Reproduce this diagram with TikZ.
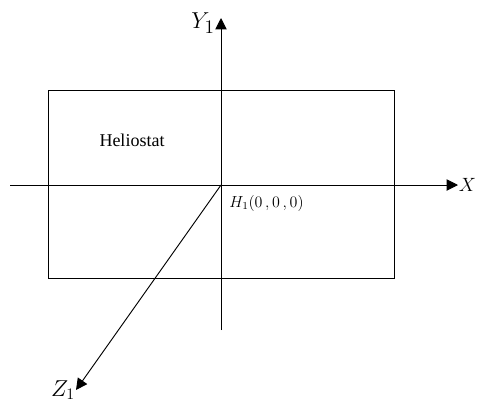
\documentclass[tikz,border=0pt]{standalone}
\usepackage{fontspec}
\setmainfont{Liberation Serif}
\usepackage{tikz}
\usetikzlibrary{arrows.meta,positioning}

\begin{document}
\begin{tikzpicture}[
    x=0.75pt, y=-0.75pt,
    axis/.style={line width=0.7pt},
    arrow/.style={axis, -{Triangle[length=8.5pt,width=8.5pt]}},
    panel/.style={draw, line width=1.4pt, minimum width=346*0.75pt,
                  minimum height=188*0.75pt, inner sep=0pt},
  ]
  \useasboundingbox (0,0) rectangle (477,401);
  % heliostat plane
  \node[panel] (mirror) at (221.5,184.5) {};
  \node[font=\fontsize{13.5}{16}\selectfont] (name) at (132,140) {Heliostat};
  % axes
  \coordinate (O) at (221,185);
  \coordinate (xs) at (10,185);
  \coordinate (xe) at (458,185);
  \coordinate (ys) at (221,330);
  \coordinate (ye) at (221,18);
  \coordinate (ze) at (76,390);
  \draw[arrow] (xs) -- (xe);
  \draw[arrow] (ys) -- (ye);
  \draw[arrow] (O) -- (ze);
  \node[font=\fontsize{14}{17}\selectfont, right=0pt of xe, inner sep=0.5pt] (xlab) {$X$};
  \node[font=\fontsize{19}{22}\selectfont] (ylab) at (203,23) {$Y_1$};
  \node[font=\fontsize{17}{20}\selectfont] (zlab) at (63,390) {$Z_1$};
  \node[font=\fontsize{12}{14}\selectfont, anchor=west, inner sep=0pt] (orig) at (229,203) {$H_1(0\,,0\,,0)$};
\end{tikzpicture}
\end{document}
